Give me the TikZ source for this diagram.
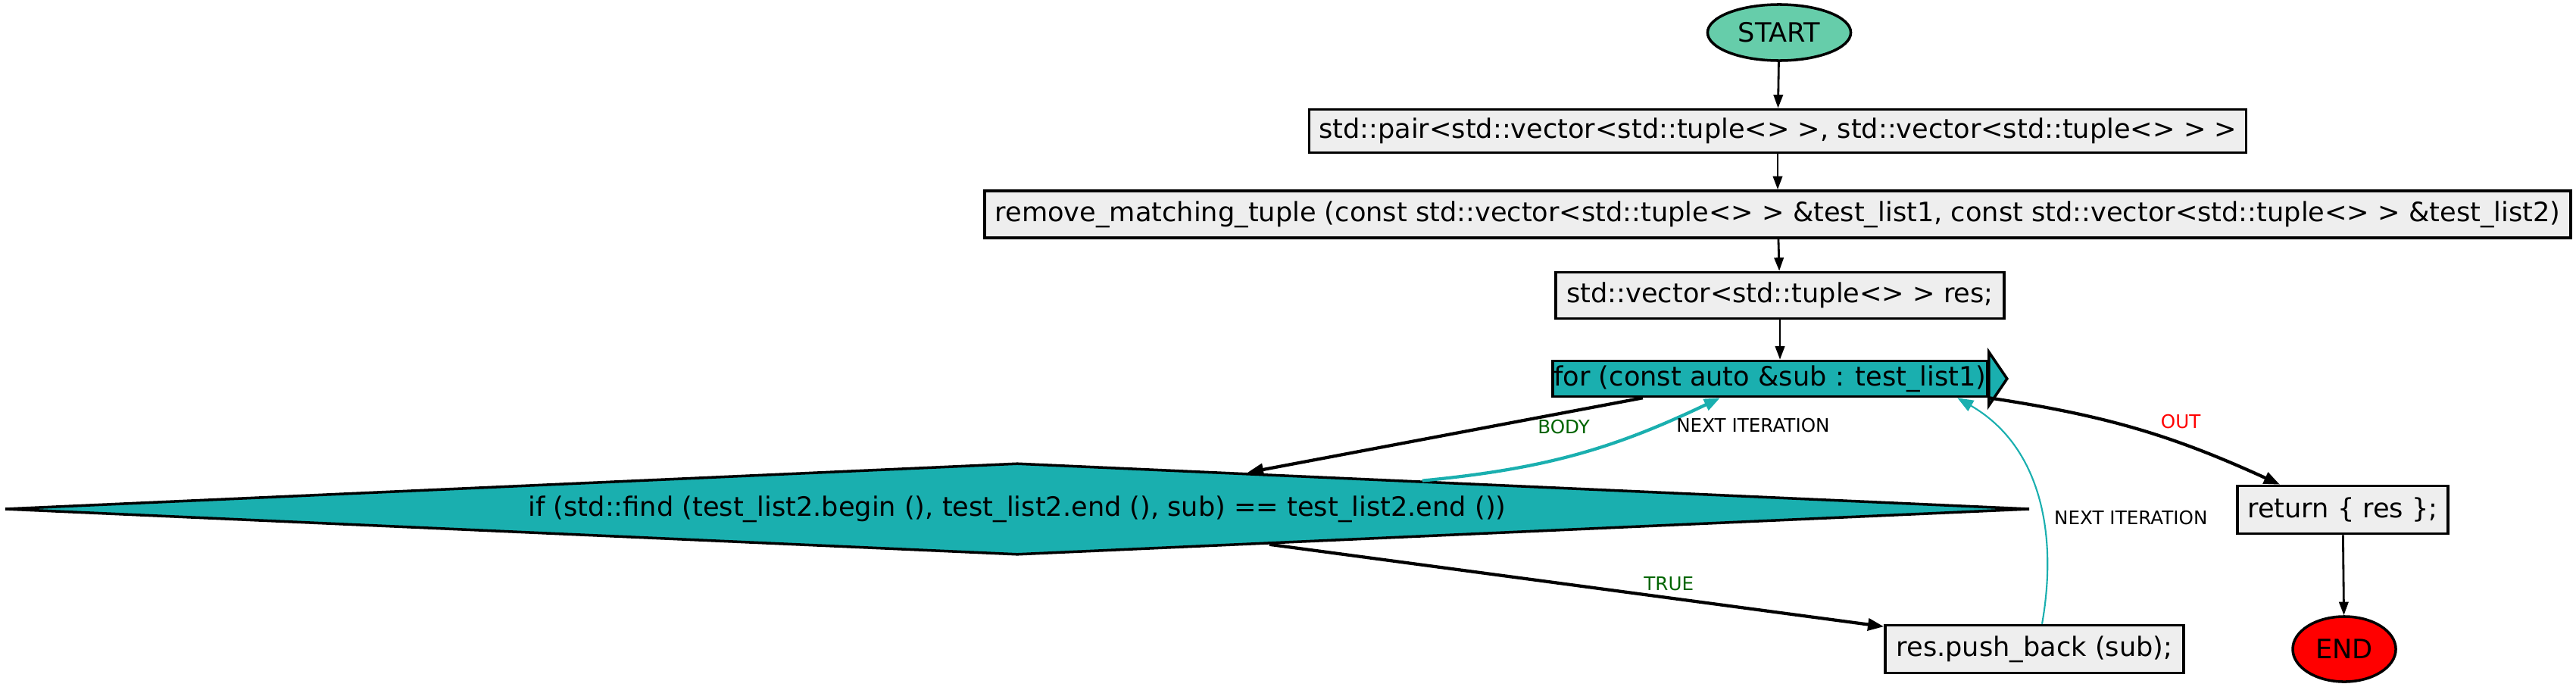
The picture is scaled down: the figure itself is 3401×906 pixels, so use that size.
\documentclass[tikz,border=0pt]{standalone}
\usepackage{fontspec}
\setmainfont{DejaVu Sans}
\usetikzlibrary{shapes, arrows.meta}

\definecolor{startgreen}{RGB}{102,205,170}
\definecolor{loopteal}{RGB}{26,175,175}
\definecolor{boxgray}{RGB}{238,238,238}
\definecolor{lblgreen}{RGB}{0,100,0}

\begin{document}
\begin{tikzpicture}[x=0.01cm, y=0.01cm,
		terminal/.style={
			ellipse,
			draw=black,
			line width=1pt,
			inner sep=0pt,
			font=\fontsize{10}{12}\selectfont
		},
		block/.style={
			rectangle,
			draw=black,
			fill=boxgray,
			line width=1pt,
			inner sep=0pt,
			font=\fontsize{10}{12}\selectfont
		},
		loopbox/.style={block, fill=loopteal},
		decision/.style={
			diamond,
			draw=black,
			fill=loopteal,
			line width=1pt,
			aspect=22,
			inner sep=0pt,
			minimum width=26.72cm,
			minimum height=1.21cm,
			font=\fontsize{10}{12}\selectfont
		},
		lbl/.style={font=\fontsize{7}{8}\selectfont, inner sep=2pt},
		arrow/.style={-{Triangle[length=5pt, width=3.5pt]}, line width=0.8pt},
		bold/.style={-{Triangle[length=6pt, width=4.5pt]}, line width=1.2pt},
		back/.style={bold, loopteal}]

	\useasboundingbox (0,0) rectangle (3401,-906);

	\node [terminal, fill=startgreen, minimum width=1.89cm, minimum height=0.74cm] (start) at (2349,-43) {START};
	\node [block, minimum width=12.36cm, minimum height=0.57cm] (pair) at (2347,-173) {std::pair<std::vector<std::tuple<> >, std::vector<std::tuple<> > >};
	\node [block, minimum width=20.93cm, minimum height=0.62cm] (remove) at (2347,-283) {remove\_matching\_tuple (const std::vector<std::tuple<> > \&test\_list1, const std::vector<std::tuple<> > \&test\_list2)};
	\node [block, minimum width=5.92cm, minimum height=0.61cm] (res) at (2350,-390) {std::vector<std::tuple<> > res;};
	\node [loopbox, minimum width=5.74cm, minimum height=0.47cm] (loop) at (2337,-500) {for (const auto \&sub : test\_list1)};
	\filldraw [fill=loopteal, line width=1pt] ([yshift=2.8pt]loop.north east) -- ([xshift=6.8pt]loop.east) -- ([yshift=-2.8pt]loop.south east) -- cycle;
	\node [decision] (cond) at (1343,-672) {if (std::find (test\_list2.begin (), test\_list2.end (), sub) == test\_list2.end ())};
	\node [block, minimum width=2.78cm, minimum height=0.63cm] (ret) at (3093,-673) {return \{ res \};};
	\node [block, minimum width=3.94cm, minimum height=0.63cm] (push) at (2686,-857) {res.push\_back (sub);};
	\node [terminal, fill=red, minimum width=1.36cm, minimum height=0.86cm] (end) at (3095,-857) {END};

	\draw [arrow] (start) -- (pair);
	\draw [arrow] (pair) -- (remove);
	\draw [arrow] (remove) -- (res);
	\draw [arrow] (res.south) -- (res.south |- loop.north);
	\draw [bold] ([xshift=-1.68cm]loop.south) -- node [lbl, text=lblgreen, pos=0.2, below] {BODY} (cond.9.6);
	\draw [back] (cond.4.5) to [bend right=10] node [lbl, text=black, pos=0.8, right=4pt] {NEXT ITERATION} ([xshift=-0.66cm]loop.south);
	\draw [bold] (loop.south east) to [bend left=8] node [lbl, text=red, pos=0.66, above=3pt] {OUT} ([xshift=-0.83cm]ret.north);
	\draw [bold] (cond.-8.2) -- node [lbl, text=lblgreen, pos=0.65, above] {TRUE} ([yshift=-1pt]push.north west);
	\draw [back, line width=0.6pt] ([xshift=0.1cm]push.north) to [out=80, in=-30] node [lbl, text=black, pos=0.4, right=2pt] {NEXT ITERATION} ([xshift=2.47cm]loop.south);
	\draw [arrow] (ret) -- (end);
\end{tikzpicture}
\end{document}
